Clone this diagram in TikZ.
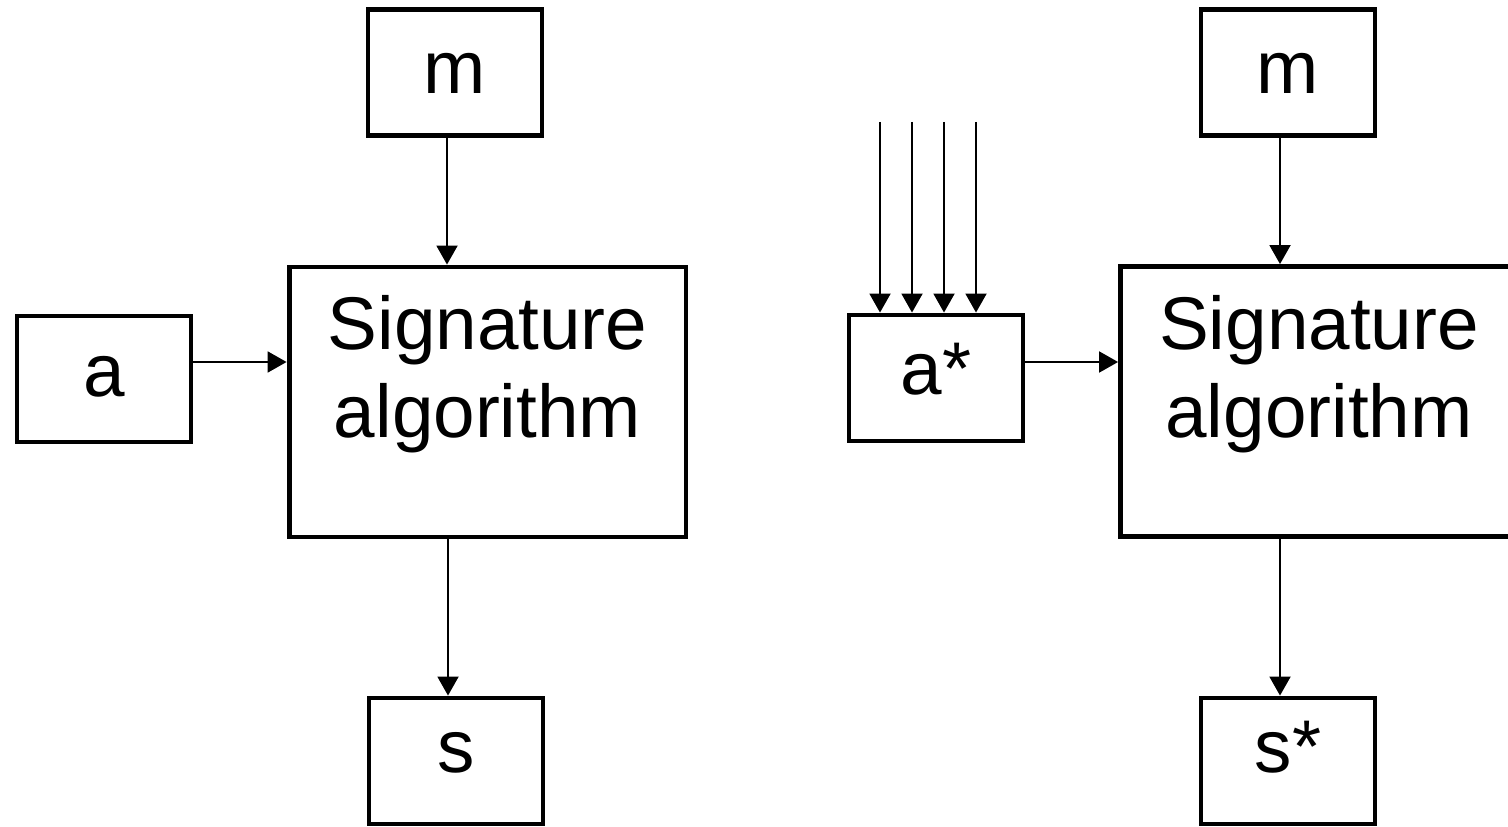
\documentclass[tikz,border=0pt]{standalone}
\usepackage{fontspec}
\setmainfont{Liberation Sans}
\usetikzlibrary{arrows.meta}
\begin{document}
\begin{tikzpicture}[x=0.02cm,y=-0.02cm,
  box/.style={draw, line width=2.8pt, minimum width=3.48cm, minimum height=2.52cm,
    inner sep=0pt, font=\fontsize{42.5}{50}\selectfont, text depth=0pt},
  bigbox/.style={draw, line width=2.8pt, minimum width=7.94cm, minimum height=5.4cm, inner sep=0pt},
  bigtext/.style={align=center, inner sep=0pt, font=\fontsize{42.5}{50}\selectfont},
  flow/.style={line width=1.1pt, -{Triangle[length=0.38cm,width=0.42cm]}}
]
\useasboundingbox[fill=white] (0,0) rectangle (1508,827);

% left: plain signing
\node[box, text height=0.84cm] (m1) at (455,72.5) {m};
\node[box, text height=0.72cm] (a1) at (104,379) {a};
\node[bigbox] (sig1) at (487.5,402) {};
\node[bigtext] (sig1txt) at (487.5,374.6) {Signature\\algorithm};
\node[box, text height=0.44cm] (s1) at (456,761) {s};

\draw[flow] ([xshift=-0.16cm]m1.south) -- ([xshift=-0.16cm]m1.south |- sig1.north);
\draw[flow] ([yshift=0.34cm]a1.east) -- ([yshift=0.34cm]a1.east -| sig1.west);
\draw[flow] ([xshift=-0.16cm]s1.north |- sig1.south) -- ([xshift=-0.16cm]s1.north);

% right: signing with a derived key
\node[box, text height=0.84cm] (m2) at (1288,72.5) {m};
\node[box, text height=0.68cm] (a2) at (936,378) {a*};
\node[bigbox] (sig2) at (1319,401.5) {};
\node[bigtext] (sig2txt) at (1319,374.6) {Signature\\algorithm};
\node[box, text height=0.44cm] (s2) at (1288,761) {s*};

\coordinate (in1) at (880,122);
\coordinate (in2) at (912,122);
\coordinate (in3) at (944,122);
\coordinate (in4) at (976,122);
\foreach \c in {in1,in2,in3,in4}
  \draw[flow] (\c) -- (\c |- a2.north);

\draw[flow] ([xshift=-0.16cm]m2.south) -- ([xshift=-0.16cm]m2.south |- sig2.north);
\draw[flow] ([yshift=0.32cm]a2.east) -- ([yshift=0.32cm]a2.east -| sig2.west);
\draw[flow] ([xshift=-0.16cm]s2.north |- sig2.south) -- ([xshift=-0.16cm]s2.north);
\end{tikzpicture}
\end{document}
